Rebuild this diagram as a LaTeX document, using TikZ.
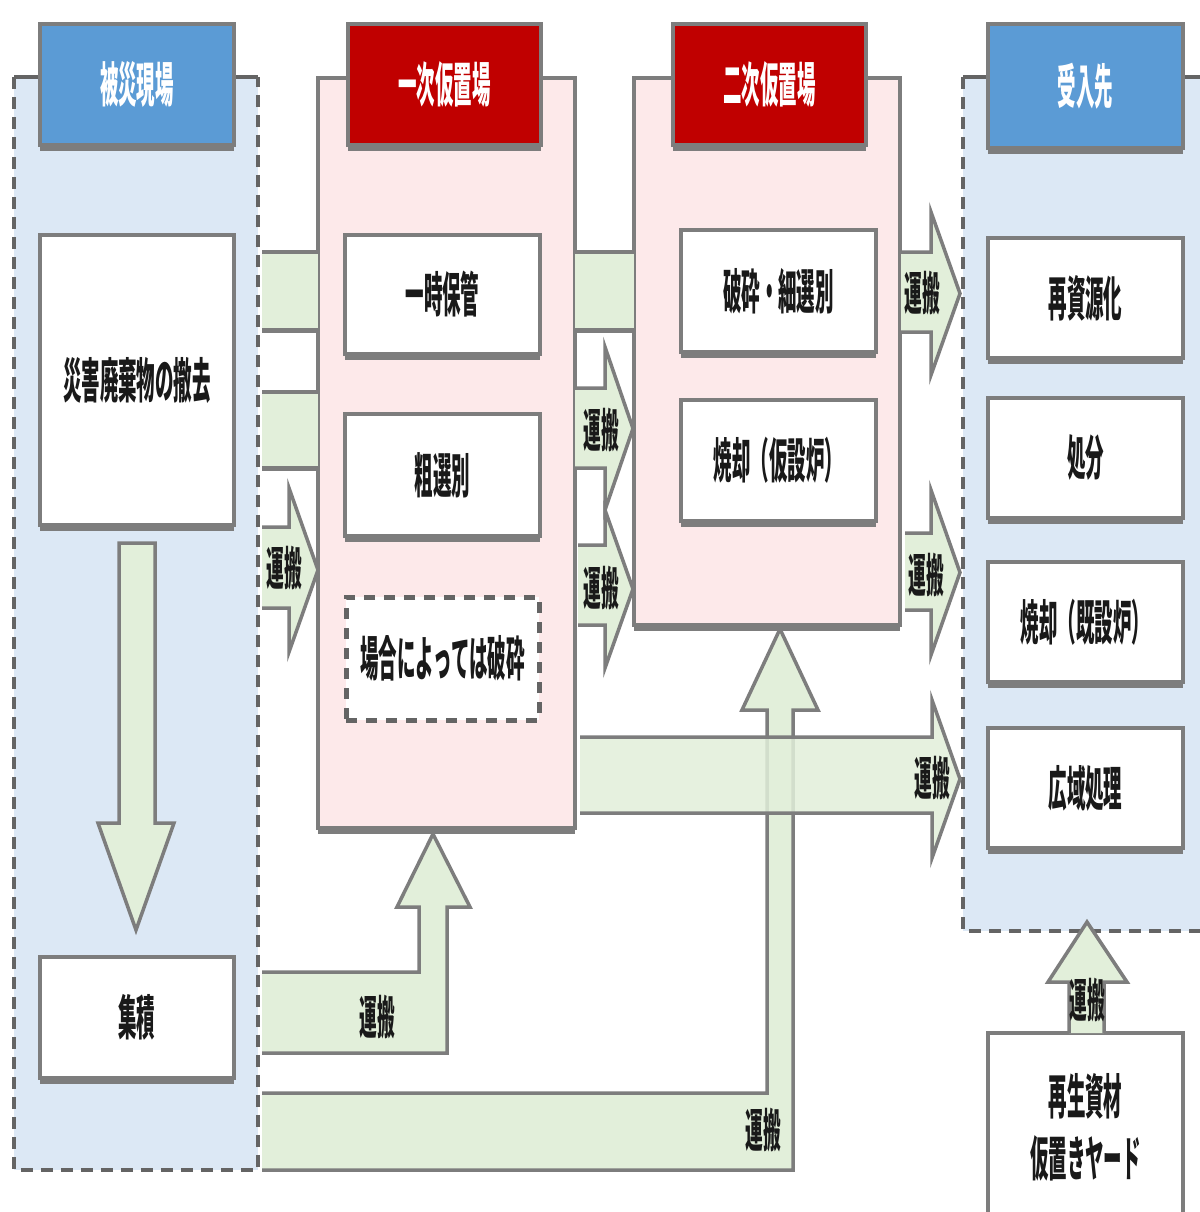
\documentclass[tikz,border=0pt]{standalone}
\usepackage{fontspec}
\newfontfamily\jp[FakeStretch=0.385]{Noto Sans CJK JP}
\usetikzlibrary{shadows}
\definecolor{lblue}{RGB}{220,232,245}
\definecolor{pinkbg}{RGB}{253,233,234}
\definecolor{hdrblue}{RGB}{91,155,213}
\definecolor{hdrred}{RGB}{192,0,0}
\definecolor{agreen}{RGB}{226,239,218}
\definecolor{bordergray}{RGB}{125,125,125}
\definecolor{dashgray}{RGB}{100,100,100}
\definecolor{txt}{RGB}{25,25,25}
\tikzset{
  every node/.style={font=\jp\bfseries\fontsize{24}{31}\selectfont, text=txt, inner sep=0pt},
  shad/.style={drop shadow={shadow xshift=0pt, shadow yshift=-3pt, fill=bordergray, opacity=1}},
  box/.style={draw=bordergray, line width=2pt, fill=white, shad},
  dbox/.style={draw=dashgray, line width=2.5pt, fill=white, dash pattern=on 5.5pt off 4.5pt},
  hdrb/.style={box, fill=hdrblue, text=white},
  hdrr/.style={box, fill=hdrred, text=white},
  pinkbox/.style={box, fill=pinkbg},
  dline/.style={draw=dashgray, line width=2pt, dash pattern=on 6pt off 4pt},
  sline/.style={draw=dashgray, line width=2pt},
  aline/.style={draw=bordergray, line width=1.75pt, line join=miter},
  afill/.style={fill=agreen},
  lbl/.style={font=\jp\bfseries\fontsize{23}{27}\selectfont}
}
% box node from corners (px coordinates, y downward)
\newcommand{\bx}[7]{%
  \pgfmathsetmacro\bxcx{(#2+#4)/2}%
  \pgfmathsetmacro\bxcy{(#3+#5)/2}%
  \pgfmathsetmacro\bxw{(#4-#2)*0.5}%
  \pgfmathsetmacro\bxh{(#5-#3)*0.5}%
  \node[#6, minimum width=\bxw pt, minimum height=\bxh pt, align=center] (#1) at (\bxcx,\bxcy) {#7};}
% right-pointing block arrow: x0 x1 x2 ytop ybot headtop headbot
\newcommand{\rarr}[7]{%
  \pgfmathsetmacro\tipy{(#6+#7)/2}%
  \fill[afill] (#1,#4) -- (#2,#4) -- (#2,#6) -- (#3,\tipy) -- (#2,#7) -- (#2,#5) -- (#1,#5) -- cycle;
  \draw[aline] (#1,#4) -- (#2,#4) -- (#2,#6) -- (#3,\tipy) -- (#2,#7) -- (#2,#5) -- (#1,#5);}
% plain band: x0 x1 ytop ybot
\newcommand{\band}[4]{%
  \fill[afill] (#1,#3) rectangle (#2,#4);
  \draw[aline] (#1,#3) -- (#2,#3);
  \draw[aline, line width=2.5pt] (#1,#4) -- (#2,#4);}
\begin{document}
\begin{tikzpicture}[x=0.5pt,y=-0.5pt]
\useasboundingbox (0,0) rectangle (1200,1212);
\clip (0,0) rectangle (1200,1212);
\fill[white] (0,0) rectangle (1200,1212);

% column backgrounds
\fill[lblue] (14,77) rectangle (258,1170);
\draw[dline] (14,77) -- (14,1170) -- (258,1170) -- (258,77);
\draw[sline] (14,77) -- (258,77);
\fill[lblue] (963,77) rectangle (1215,931);
\draw[dline] (963,77) -- (963,931) -- (1215,931);
\draw[sline] (963,77) -- (1215,77);

\bx{c2}{318}{78}{575}{828}{pinkbox}{}
\bx{c3}{634}{78}{900}{625}{pinkbox}{}

% headers
\bx{h1}{40}{24}{234}{145}{hdrb}{被災現場}
\bx{h2}{348}{24}{541}{145}{hdrr}{一次仮置場}
\bx{h3}{673}{24}{866}{145}{hdrr}{二次仮置場}
\bx{h4}{988}{24}{1183}{148}{hdrb}{受入先}

% boxes
\bx{b11}{40}{235}{234}{525}{box}{災害廃棄物の撤去}
\bx{b12}{40}{957}{234}{1078}{box}{集積}
\bx{b21}{345}{235}{540}{354}{box}{一時保管}
\bx{b22}{345}{414}{540}{536}{box}{粗選別}
\bx{b23}{346}{597}{539}{720}{dbox}{場合によっては破砕}
\bx{b31}{681}{230}{876}{352}{box}{破砕・細選別}
\bx{b32}{681}{400}{876}{521}{box}{焼却（仮設炉）}
\bx{b41}{988}{238}{1183}{358}{box}{再資源化}
\bx{b42}{988}{398}{1183}{518}{box}{処分}
\bx{b43}{988}{562}{1183}{682}{box}{焼却（既設炉）}
\bx{b44}{988}{728}{1183}{848}{box}{広域処理}
\bx{b5}{988}{1033}{1183}{1222}{box}{再生資材\\仮置きヤード}

% down arrow in column 1
\filldraw[afill, aline] (119,543) -- (155,543) -- (155,823) -- (174,823) -- (136,930) -- (98,823) -- (119,823) -- cycle;

% column 1 -> column 2
\band{262}{318}{252}{330}
\band{262}{318}{392}{468}
\rarr{262}{289}{318}{527}{608}{488}{652}
\node[lbl] (l1) at (284,568) {運搬};

% column 2 -> column 3
\band{575}{634}{252}{330}
\rarr{575}{605}{633}{388}{468}{347}{510}
\node[lbl] (l2) at (601,430) {運搬};
\rarr{578}{605}{633}{545}{625}{510}{668}
\node[lbl] (l3) at (601,588) {運搬};

% column 3 -> column 4
\rarr{901}{931}{960}{252}{332}{212}{375}
\node[lbl] (l4) at (922,293) {運搬};
\rarr{905}{931}{960}{533}{610}{490}{655}
\node[lbl] (l5) at (926,575) {運搬};

% 集積 -> 一次仮置場
\fill[afill] (262,972) -- (419,972) -- (419,907) -- (397,907) -- (433,834) -- (470,907) -- (447,907) -- (447,1053) -- (262,1053) -- cycle;
\draw[aline] (262,972) -- (419,972) -- (419,907) -- (397,907) -- (433,834) -- (470,907) -- (447,907) -- (447,1053) -- (262,1053);
\node[lbl] (l6) at (377,1017) {運搬};

% 被災現場 -> 二次仮置場 (L-shaped)
\fill[afill] (262,1093) -- (767,1093) -- (767,710) -- (742,710) -- (780,629) -- (818,710) -- (793,710) -- (793,1170) -- (262,1170) -- cycle;
\draw[aline] (262,1093) -- (767,1093) -- (767,710) -- (742,710) -- (780,629) -- (818,710) -- (793,710) -- (793,1170) -- (262,1170);
\node[lbl] (l7) at (763,1130) {運搬};

% 一次仮置場 -> 受入先 (long)
\fill[afill, fill opacity=0.85] (580,737) -- (932,737) -- (932,700) -- (960,779) -- (932,858) -- (932,813) -- (580,813) -- cycle;
\draw[aline] (580,737) -- (932,737) -- (932,700) -- (960,779) -- (932,858) -- (932,813) -- (580,813);
\node[lbl] (l8) at (932,778) {運搬};

% 再生資材 -> 受入先
\fill[afill] (1069,1033) -- (1069,982) -- (1048,982) -- (1087,922) -- (1127,982) -- (1104,982) -- (1104,1033) -- cycle;
\draw[aline] (1069,1033) -- (1069,982) -- (1048,982) -- (1087,922) -- (1127,982) -- (1104,982) -- (1104,1033);
\node[lbl] (l9) at (1087,1000) {運搬};
\end{tikzpicture}
\end{document}
